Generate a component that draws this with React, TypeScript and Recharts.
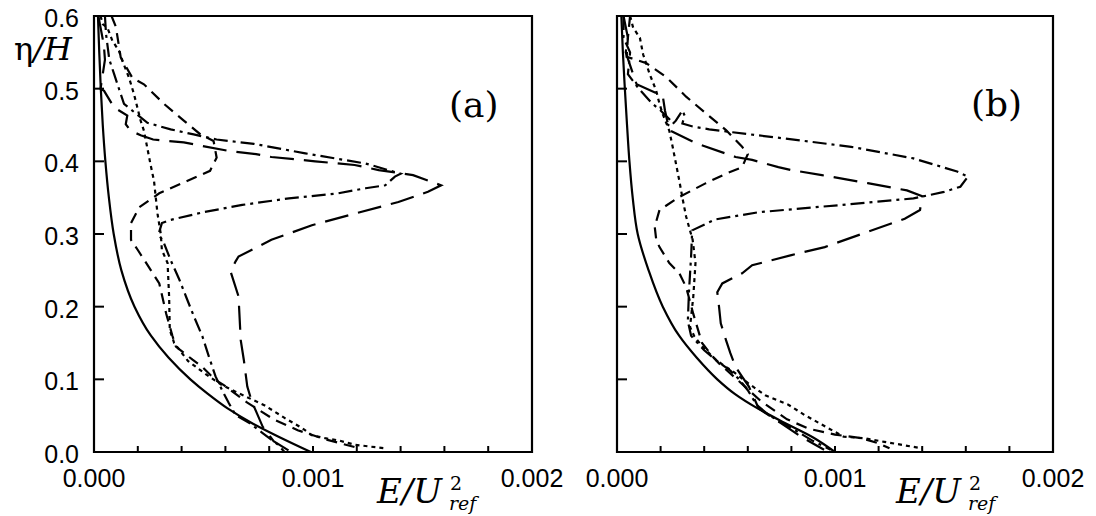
import React from 'react';
import { ScatterChart, Scatter, XAxis, YAxis, ReferenceArea } from 'recharts';

// x values are in units of 1e-3 (E/U_ref^2), y = eta/H
type Pt = [number, number];
const X_UNIT = 0.001;

const xTicks = [0, 0.0002, 0.0004, 0.0006, 0.0008, 0.001, 0.0012, 0.0014, 0.0016, 0.0018, 0.002];
const xTickLabels = ['0.000', '', '', '', '', '0.001', '', '', '', '', '0.002'];
const yTicks = [0, 0.1, 0.2, 0.3, 0.4, 0.5, 0.6];
const yTickLabels = ['0.0', '0.1', '0.2', '0.3', '0.4', '0.5', '0.6'];

// ---------- panel (a) ----------
const aSolid: Pt[] = [
  [0.99, 0], [0.85, 0.02], [0.72, 0.04], [0.61, 0.06], [0.52, 0.08], [0.44, 0.1],
  [0.34, 0.13], [0.26, 0.16], [0.185, 0.2], [0.125, 0.25], [0.09, 0.3], [0.068, 0.35],
  [0.052, 0.4], [0.04, 0.45], [0.031, 0.5], [0.024, 0.55], [0.018, 0.6],
];
const aDotted: Pt[] = [
  [0.03, 0.6], [0.04, 0.589], [0.061, 0.584], [0.084, 0.566], [0.114, 0.552], [0.13, 0.538],
  [0.16, 0.515], [0.183, 0.492], [0.198, 0.474], [0.213, 0.456], [0.228, 0.442], [0.243, 0.419],
  [0.258, 0.396], [0.274, 0.373], [0.29, 0.328], [0.305, 0.3], [0.31, 0.278], [0.336, 0.26],
  [0.343, 0.214], [0.346, 0.168], [0.366, 0.15], [0.43, 0.125], [0.52, 0.105], [0.585, 0.092],
  [0.646, 0.083], [0.78, 0.064], [0.87, 0.047], [0.95, 0.033], [0.995, 0.023], [1.055, 0.019],
  [1.116, 0.016], [1.19, 0.01], [1.33, 0.005],
];
const aMedium: Pt[] = [
  [0.08, 0.6], [0.1, 0.585], [0.122, 0.543], [0.175, 0.515], [0.228, 0.506], [0.32, 0.479],
  [0.41, 0.456], [0.486, 0.437], [0.546, 0.428], [0.56, 0.405], [0.53, 0.387], [0.425, 0.373],
  [0.298, 0.356], [0.207, 0.337], [0.169, 0.315], [0.169, 0.292], [0.2, 0.278], [0.26, 0.25],
  [0.298, 0.232], [0.33, 0.19], [0.358, 0.16], [0.374, 0.145], [0.45, 0.127], [0.495, 0.117],
  [0.555, 0.099], [0.593, 0.092], [0.7, 0.068], [0.82, 0.045], [0.93, 0.03], [1.05, 0.018],
  [1.2, 0.006],
];
const aLong: Pt[] = [
  [0.02, 0.6], [0.045, 0.56], [0.05, 0.54], [0.03, 0.5], [0.046, 0.497], [0.092, 0.474],
  [0.152, 0.463], [0.145, 0.451], [0.167, 0.442], [0.213, 0.436], [0.27, 0.43], [0.41, 0.426],
  [0.62, 0.414], [0.74, 0.41], [0.81, 0.406], [1.01, 0.4], [1.19, 0.395], [1.3, 0.388],
  [1.457, 0.381], [1.585, 0.367], [1.525, 0.358], [1.39, 0.344], [1.19, 0.328], [0.995, 0.312],
  [0.81, 0.292], [0.66, 0.269], [0.646, 0.262], [0.624, 0.248], [0.66, 0.214], [0.67, 0.154],
  [0.684, 0.127], [0.7, 0.09], [0.72, 0.07], [0.77, 0.035], [0.82, 0.015], [0.9, 0],
];
const aDashDot: Pt[] = [
  [0.05, 0.6], [0.055, 0.575], [0.07, 0.54], [0.092, 0.52], [0.137, 0.479], [0.244, 0.453],
  [0.35, 0.444], [0.455, 0.437], [0.56, 0.43], [0.73, 0.424], [0.965, 0.411], [1.24, 0.397],
  [1.4, 0.383], [1.374, 0.379], [1.33, 0.367], [1.24, 0.363], [1.116, 0.356], [0.89, 0.349],
  [0.677, 0.34], [0.5, 0.33], [0.344, 0.319], [0.31, 0.315], [0.295, 0.3], [0.32, 0.287],
  [0.35, 0.264], [0.39, 0.237], [0.42, 0.214], [0.457, 0.186], [0.495, 0.159], [0.525, 0.131],
  [0.555, 0.104], [0.585, 0.085], [0.616, 0.067], [0.646, 0.051], [0.71, 0.04], [0.77, 0.026],
  [0.84, 0.01], [0.87, 0],
];

// ---------- panel (b) ----------
const bSolid: Pt[] = [
  [1.0, 0], [0.9, 0.02], [0.77, 0.04], [0.645, 0.06], [0.54, 0.08], [0.46, 0.1],
  [0.365, 0.13], [0.285, 0.16], [0.21, 0.2], [0.145, 0.25], [0.095, 0.3], [0.072, 0.35],
  [0.057, 0.4], [0.046, 0.45], [0.036, 0.5], [0.027, 0.55], [0.02, 0.6],
];
const bDotted: Pt[] = [
  [0.06, 0.6], [0.074, 0.584], [0.105, 0.57], [0.12, 0.547], [0.15, 0.52], [0.18, 0.497],
  [0.195, 0.479], [0.21, 0.465], [0.24, 0.442], [0.256, 0.419], [0.271, 0.396], [0.286, 0.373],
  [0.3, 0.35], [0.317, 0.324], [0.347, 0.292], [0.36, 0.26], [0.35, 0.214], [0.335, 0.172],
  [0.355, 0.159], [0.392, 0.145], [0.453, 0.127], [0.5, 0.117], [0.536, 0.11], [0.6, 0.095],
  [0.68, 0.078], [0.786, 0.065], [0.86, 0.051], [0.968, 0.033], [1.04, 0.021], [1.135, 0.019],
  [1.226, 0.014], [1.4, 0.005],
];
const bMedium: Pt[] = [
  [0.06, 0.6], [0.05, 0.57], [0.044, 0.544], [0.135, 0.535], [0.226, 0.516], [0.317, 0.489],
  [0.408, 0.466], [0.5, 0.443], [0.574, 0.42], [0.6, 0.41], [0.574, 0.392], [0.5, 0.383],
  [0.408, 0.37], [0.286, 0.351], [0.195, 0.333], [0.173, 0.31], [0.18, 0.292], [0.195, 0.282],
  [0.24, 0.26], [0.286, 0.246], [0.317, 0.227], [0.35, 0.19], [0.39, 0.15], [0.44, 0.131],
  [0.468, 0.122], [0.55, 0.1], [0.66, 0.07], [0.78, 0.045], [0.88, 0.032], [1.0, 0.024],
  [1.12, 0.019], [1.2, 0.012], [1.25, 0.005],
];
const bLong: Pt[] = [
  [0.03, 0.6], [0.05, 0.57], [0.04, 0.55], [0.09, 0.506], [0.21, 0.49], [0.22, 0.47],
  [0.24, 0.443], [0.362, 0.425], [0.544, 0.406], [0.62, 0.402], [0.74, 0.392], [0.8, 0.388],
  [0.94, 0.381], [1.15, 0.37], [1.33, 0.36], [1.4, 0.352], [1.39, 0.333], [1.32, 0.321],
  [1.15, 0.303], [0.953, 0.282], [0.8, 0.271], [0.62, 0.257], [0.574, 0.246], [0.483, 0.232],
  [0.46, 0.22], [0.468, 0.2], [0.476, 0.177], [0.5, 0.154], [0.52, 0.136], [0.544, 0.117],
  [0.573, 0.104], [0.605, 0.09], [0.65, 0.06], [0.75, 0.04], [0.85, 0.02], [0.95, 0.003],
];
const bDashDot: Pt[] = [
  [0.03, 0.6], [0.03, 0.57], [0.06, 0.55], [0.05, 0.52], [0.1, 0.5], [0.16, 0.48],
  [0.2, 0.47], [0.24, 0.458], [0.226, 0.452], [0.245, 0.448], [0.27, 0.456], [0.3, 0.47],
  [0.31, 0.463], [0.3, 0.452], [0.347, 0.448], [0.423, 0.444], [0.53, 0.44], [0.726, 0.433],
  [1.074, 0.42], [1.36, 0.404], [1.56, 0.386], [1.61, 0.379], [1.575, 0.365], [1.5, 0.358],
  [1.44, 0.354], [1.36, 0.349], [1.03, 0.34], [0.65, 0.33], [0.45, 0.32], [0.345, 0.305],
  [0.34, 0.27], [0.33, 0.22], [0.325, 0.18], [0.34, 0.16], [0.4, 0.14], [0.46, 0.125],
  [0.52, 0.112], [0.56, 0.1], [0.6, 0.085], [0.64, 0.065], [0.7, 0.05], [0.8, 0.033],
  [0.9, 0.015], [0.98, 0.003],
];

const DASH = {
  solid: undefined as string | undefined,
  dotted: '4 4',
  medium: '11 7',
  long: '24 10',
  dashDot: '14 5 3 5',
};

const toData = (pts: Pt[]) => pts.map(([x, y]) => ({ x: x * X_UNIT, y }));

const NoShape = () => <g />;

const tickFont = 'Liberation Sans, Arial, sans-serif';

const XTick = (props: any) => {
  const { x, y, index } = props;
  const label = xTickLabels[index] ?? '';
  return (
    <g>
      <line x1={x} y1={y} x2={x} y2={y - 6} stroke="#000" strokeWidth={2} />
      {label ? (
        <text x={x} y={y + 35} textAnchor="middle" fontSize={25} fontFamily={tickFont} fill="#000">
          {label}
        </text>
      ) : null}
    </g>
  );
};

const makeYTick = (showLabels: boolean) => (props: any) => {
  const { x, y, index } = props;
  const label = yTickLabels[index] ?? '';
  return (
    <g>
      <line x1={x} y1={y} x2={x + 10} y2={y} stroke="#000" strokeWidth={2} />
      {showLabels ? (
        <text x={x - 15} y={y + 11} textAnchor="end" fontSize={25} fontFamily={tickFont} fill="#000">
          {label}
        </text>
      ) : null}
    </g>
  );
};

type Series = { name: string; pts: Pt[]; dash: string | undefined; joint: 'linear' | 'monotoneY' };

const Panel = ({ series, left, width, marginLeft, marginRight, showYLabels }: {
  series: Series[]; left: number; width: number; marginLeft: number; marginRight: number; showYLabels: boolean;
}) => (
  <div style={{ position: 'absolute', left, top: 0, width, height: 516 }}>
    <ScatterChart width={width} height={516} margin={{ top: 16, right: marginRight, bottom: 24, left: marginLeft }}>
      <XAxis
        type="number"
        dataKey="x"
        domain={[0, 0.002]}
        ticks={xTicks}
        interval={0}
        allowDataOverflow
        height={40}
        axisLine={false}
        tickLine={false}
        tickSize={0}
        tickMargin={0}
        tick={XTick}
      />
      <YAxis
        type="number"
        dataKey="y"
        domain={[0, 0.6]}
        ticks={yTicks}
        interval={0}
        allowDataOverflow
        width={60}
        axisLine={false}
        tickLine={false}
        tickSize={0}
        tickMargin={0}
        tick={makeYTick(showYLabels)}
      />
      <ReferenceArea x1={0} x2={0.002} y1={0} y2={0.6} fill="none" fillOpacity={0} stroke="#000" strokeWidth={2.2} />
      {series.map((s) => (
        <Scatter
          key={s.name}
          name={s.name}
          data={toData(s.pts)}
          fill="#000"
          shape={NoShape}
          line={{ stroke: '#000', strokeWidth: 2.2, strokeDasharray: s.dash, fill: 'none' }}
          lineType="joint"
          lineJointType={s.joint}
          isAnimationActive={false}
        />
      ))}
    </ScatterChart>
  </div>
);

const seriesA: Series[] = [
  { name: 'solid', pts: aSolid, dash: DASH.solid, joint: 'monotoneY' },
  { name: 'dotted', pts: aDotted, dash: DASH.dotted, joint: 'linear' },
  { name: 'medium', pts: aMedium, dash: DASH.medium, joint: 'linear' },
  { name: 'long', pts: aLong, dash: DASH.long, joint: 'linear' },
  { name: 'dashDot', pts: aDashDot, dash: DASH.dashDot, joint: 'linear' },
];
const seriesB: Series[] = [
  { name: 'solid', pts: bSolid, dash: DASH.solid, joint: 'monotoneY' },
  { name: 'dotted', pts: bDotted, dash: DASH.dotted, joint: 'linear' },
  { name: 'medium', pts: bMedium, dash: DASH.medium, joint: 'linear' },
  { name: 'long', pts: bLong, dash: DASH.long, joint: 'linear' },
  { name: 'dashDot', pts: bDashDot, dash: DASH.dashDot, joint: 'linear' },
];

const serif = 'DejaVu Serif, Liberation Serif, serif';

const XTitle = ({ x }: { x: number }) => (
  <g fontFamily={serif} fill="#000">
    <text x={x} y={503} fontSize={34} fontStyle="italic">E/U</text>
    <text x={x + 73} y={490} fontSize={19}>2</text>
    <text x={x + 72} y={510} fontSize={19} fontStyle="italic">ref</text>
  </g>
);

export default function App() {
  return (
    <div style={{ position: 'absolute', left: 0, top: 0, width: 1096, height: 516, background: '#fff', overflow: 'hidden' }}>
      <Panel series={seriesA} left={0} width={580} marginLeft={34} marginRight={48} showYLabels />
      <Panel series={seriesB} left={540} width={556} marginLeft={17} marginRight={43} showYLabels={false} />
      <svg width={1096} height={516} style={{ position: 'absolute', left: 0, top: 0, pointerEvents: 'none' }}>
        <text x={14} y={60} fontSize={32} fontFamily={serif} fill="#000">
          η<tspan fontStyle="italic">/H</tspan>
        </text>
        <text x={449} y={117} fontSize={36} fontFamily={serif} fill="#000">(a)</text>
        <text x={971} y={116} fontSize={36} fontFamily={serif} fill="#000">(b)</text>
        <XTitle x={377} />
        <XTitle x={896} />
      </svg>
    </div>
  );
}
